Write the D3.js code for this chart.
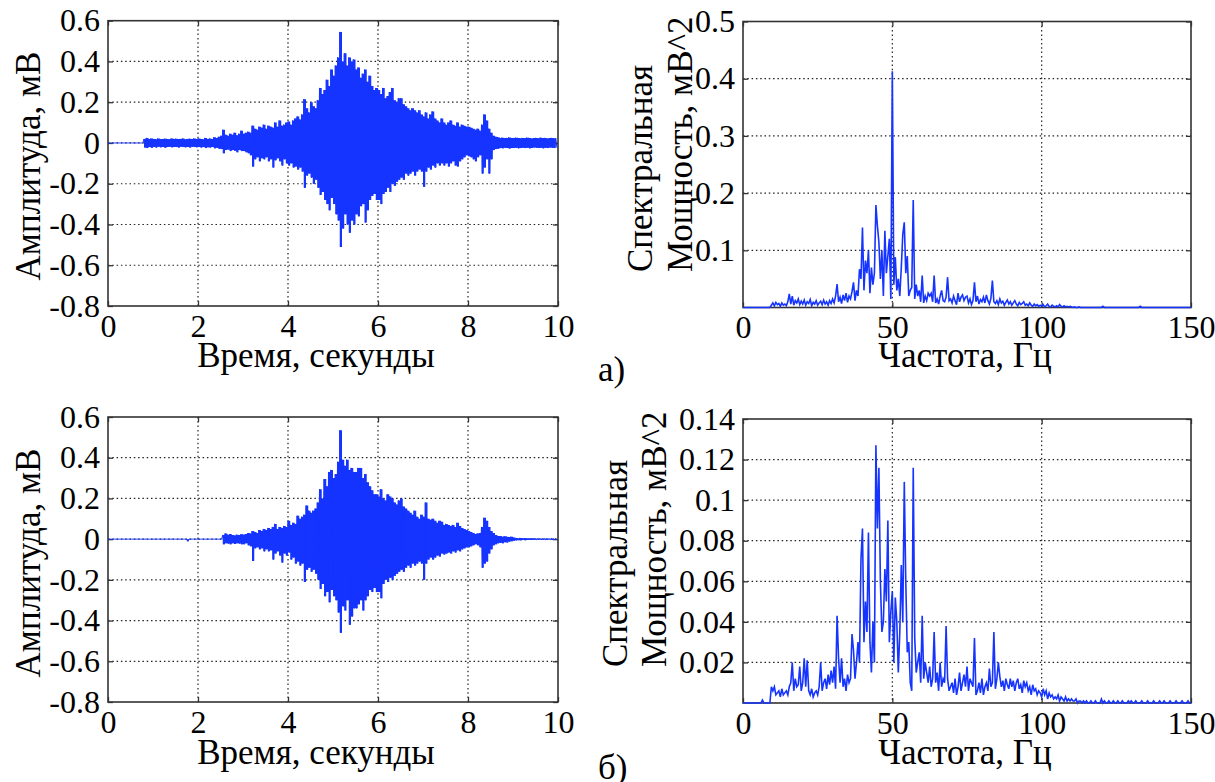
<!DOCTYPE html>
<html><head><meta charset="utf-8">
<script src="https://cdn.jsdelivr.net/npm/d3@7"></script>
<style>
body{margin:0;background:#fff}
</style></head>
<body><svg id="c" width="1215" height="782"></svg>
<script>
// ---------------- DATA ----------------
// EMG envelopes (mV), sampled every 0.05 s from 0 to 9.95 s
const sampleStep = 0.05;
const ampA_hi = [
0,0,0,0,0,0,0,0,0,0,
0,0,0,0,0,0,0.02,0.025,0.02,0.022,
0.02,0.018,0.022,0.02,0.019,0.021,0.02,0.018,0.022,0.02,
0.021,0.019,0.02,0.022,0.018,0.02,0.021,0.019,0.022,0.02,
0.022,0.02,0.018,0.025,0.02,0.022,0.019,0.028,0.024,0.03,
0.035,0.065,0.04,0.035,0.045,0.04,0.05,0.038,0.045,0.06,
0.045,0.05,0.055,0.05,0.085,0.07,0.065,0.08,0.075,0.09,
0.07,0.085,0.08,0.075,0.1,0.08,0.11,0.085,0.09,0.1,
0.105,0.09,0.11,0.12,0.13,0.115,0.14,0.215,0.17,0.15,
0.2,0.18,0.17,0.21,0.27,0.24,0.26,0.31,0.28,0.36,
0.33,0.38,0.42,0.545,0.4,0.44,0.38,0.42,0.4,0.41,
0.36,0.37,0.32,0.34,0.36,0.3,0.33,0.28,0.26,0.27,
0.26,0.24,0.27,0.22,0.23,0.25,0.27,0.21,0.2,0.22,
0.22,0.19,0.18,0.17,0.16,0.17,0.16,0.15,0.16,0.14,
0.13,0.15,0.12,0.14,0.155,0.12,0.11,0.1,0.12,0.1,
0.09,0.1,0.11,0.09,0.085,0.1,0.08,0.09,0.085,0.08,
0.08,0.075,0.07,0.065,0.07,0.06,0.09,0.14,0.11,0.07,
0.05,0.035,0.03,0.028,0.025,0.026,0.024,0.025,0.027,0.025,
0.024,0.026,0.025,0.023,0.025,0.024,0.026,0.025,0.022,0.024,
0.025,0.023,0.026,0.024,0.025,0.022,0.024,0.025,0.023,0.024];
const ampA_lo = [
0,0,0,0,0,0,0,0,0,0,
0,0,0,0,0,0,-0.022,-0.025,-0.02,-0.024,
-0.02,-0.022,-0.019,-0.021,-0.02,-0.023,-0.02,-0.019,-0.021,-0.02,
-0.02,-0.022,-0.019,-0.02,-0.021,-0.02,-0.022,-0.019,-0.02,-0.021,
-0.02,-0.022,-0.02,-0.025,-0.021,-0.022,-0.02,-0.026,-0.024,-0.028,
-0.03,-0.05,-0.035,-0.032,-0.04,-0.035,-0.038,-0.045,-0.035,-0.04,
-0.04,-0.045,-0.05,-0.06,-0.116,-0.08,-0.07,-0.09,-0.075,-0.08,
-0.07,-0.09,-0.08,-0.12,-0.085,-0.075,-0.09,-0.11,-0.08,-0.1,
-0.11,-0.1,-0.12,-0.115,-0.13,-0.12,-0.14,-0.22,-0.16,-0.15,
-0.17,-0.2,-0.18,-0.22,-0.255,-0.24,-0.28,-0.3,-0.33,-0.27,
-0.3,-0.35,-0.38,-0.51,-0.42,-0.35,-0.4,-0.44,-0.38,-0.4,
-0.35,-0.36,-0.31,-0.3,-0.39,-0.33,-0.28,-0.26,-0.25,-0.28,
-0.28,-0.3,-0.25,-0.24,-0.22,-0.24,-0.2,-0.21,-0.19,-0.18,
-0.17,-0.18,-0.15,-0.16,-0.15,-0.14,-0.16,-0.14,-0.13,-0.14,
-0.215,-0.14,-0.12,-0.13,-0.11,-0.12,-0.1,-0.11,-0.1,-0.11,
-0.1,-0.115,-0.1,-0.09,-0.11,-0.115,-0.09,-0.08,-0.07,-0.06,
-0.065,-0.07,-0.08,-0.09,-0.07,-0.06,-0.15,-0.12,-0.08,-0.15,
-0.08,-0.035,-0.03,-0.028,-0.025,-0.026,-0.024,-0.025,-0.027,-0.025,
-0.025,-0.024,-0.026,-0.025,-0.023,-0.025,-0.024,-0.026,-0.025,-0.022,
-0.024,-0.025,-0.023,-0.026,-0.024,-0.025,-0.022,-0.024,-0.025,-0.023];
const ampB_hi = [
0,0,0,0,0,0,0,0,0,0,
0,0,0,0,0,0,0,0,0,0,
0,0,0,0,0,0,0,0,0,0,
0,0,0,0,0,0,0,0,0,0,
0,0,0,0,0,0,0,0,0,0,
0,0.02,0.028,0.022,0.025,0.02,0.018,0.022,0.02,0.024,
0.022,0.025,0.03,0.028,0.04,0.035,0.03,0.045,0.04,0.05,
0.045,0.055,0.05,0.06,0.075,0.05,0.06,0.055,0.065,0.06,
0.09,0.07,0.08,0.075,0.115,0.1,0.11,0.12,0.165,0.14,
0.13,0.14,0.15,0.18,0.245,0.2,0.295,0.26,0.33,0.34,
0.3,0.32,0.38,0.535,0.39,0.36,0.39,0.34,0.35,0.33,
0.33,0.35,0.35,0.3,0.32,0.28,0.26,0.24,0.22,0.22,
0.21,0.245,0.2,0.19,0.22,0.21,0.2,0.18,0.17,0.19,
0.2,0.16,0.15,0.14,0.13,0.12,0.14,0.11,0.1,0.12,
0.11,0.18,0.1,0.095,0.1,0.09,0.08,0.09,0.085,0.07,
0.075,0.07,0.065,0.07,0.06,0.08,0.065,0.055,0.05,0.045,
0.04,0.035,0.03,0.025,0.028,0.03,0.06,0.105,0.09,0.06,
0.04,0.03,0.02,0.016,0.015,0.012,0.014,0.012,0.01,0.012,
0.008,0.006,0.005,0.006,0.004,0.005,0.004,0.003,0.004,0.003,
0.003,0.002,0.003,0.002,0.003,0.002,0.002,0.003,0.002,0.002];
const ampB_lo = [
0,0,0,0,0,0,0,0,0,0,
0,0,0,0,0,0,0,0,0,0,
0,0,0,0,0,0,0,0,0,0,
0,0,0,0,0,-0.01,0,0,0,0,
0,0,0,0,0,0,0,0,0,0,
0,-0.025,-0.02,-0.022,-0.025,-0.02,-0.024,-0.02,-0.022,-0.025,
-0.025,-0.02,-0.03,-0.035,-0.107,-0.045,-0.04,-0.05,-0.045,-0.06,
-0.05,-0.06,-0.055,-0.1,-0.07,-0.06,-0.08,-0.115,-0.07,-0.08,
-0.065,-0.1,-0.09,-0.12,-0.11,-0.13,-0.12,-0.21,-0.15,-0.14,
-0.16,-0.15,-0.17,-0.2,-0.245,-0.22,-0.28,-0.26,-0.31,-0.25,
-0.28,-0.3,-0.36,-0.46,-0.33,-0.35,-0.3,-0.42,-0.38,-0.34,
-0.34,-0.32,-0.3,-0.35,-0.3,-0.28,-0.25,-0.26,-0.24,-0.26,
-0.26,-0.29,-0.22,-0.2,-0.21,-0.19,-0.2,-0.18,-0.17,-0.16,
-0.15,-0.16,-0.14,-0.13,-0.14,-0.12,-0.13,-0.12,-0.11,-0.12,
-0.2,-0.12,-0.1,-0.09,-0.1,-0.09,-0.08,-0.085,-0.07,-0.075,
-0.07,-0.065,-0.07,-0.06,-0.065,-0.055,-0.06,-0.05,-0.045,-0.04,
-0.04,-0.035,-0.03,-0.025,-0.03,-0.04,-0.14,-0.12,-0.11,-0.07,
-0.05,-0.03,-0.025,-0.02,-0.018,-0.02,-0.015,-0.016,-0.012,-0.01,
-0.008,-0.006,-0.005,-0.006,-0.004,-0.005,-0.004,-0.003,-0.004,-0.003,
-0.003,-0.002,-0.003,-0.002,-0.003,-0.002,-0.002,-0.003,-0.002,-0.002];

// Power spectra (mV^2), sampled every 0.5 Hz from 0 to 150 Hz
const freqStep = 0.5;
const specA = [
0,0,0,0,0,0,0,0,0,0,
0,0,0,0,0,0,0,0,0,0.004,
0.008,0.003,0.009,0.005,0.007,0.002,0.008,0.004,0.006,0.003,
0.01,0.024,0.006,0.02,0.004,0.012,0.008,0.015,0.005,0.011,
0.006,0.013,0.004,0.01,0.007,0.014,0.003,0.009,0.006,0.012,
0.004,0.008,0.011,0.005,0.013,0.006,0.01,0.004,0.012,0.007,
0.015,0.008,0.02,0.041,0.01,0.018,0.007,0.022,0.012,0.025,
0.009,0.02,0.015,0.028,0.044,0.012,0.03,0.02,0.067,0.05,
0.14,0.03,0.082,0.06,0.1,0.025,0.07,0.04,0.06,0.179,
0.143,0.114,0.05,0.1,0.02,0.134,0.06,0.09,0.12,0.015,
0.413,0.04,0.088,0.03,0.05,0.02,0.07,0.128,0.149,0.06,
0.09,0.02,0.03,0.035,0.188,0.015,0.04,0.02,0.03,0.01,
0.056,0.008,0.02,0.012,0.025,0.02,0.025,0.01,0.056,0.008,
0.015,0.006,0.02,0.03,0.012,0.01,0.018,0.053,0.012,0.015,
0.008,0.02,0.012,0.005,0.025,0.01,0.018,0.022,0.012,0.018,
0.02,0.008,0.015,0.005,0.012,0.044,0.01,0.02,0.006,0.014,
0.01,0.018,0.008,0.022,0.012,0.006,0.016,0.047,0.01,0.007,
0.012,0.005,0.015,0.008,0.011,0.004,0.009,0.013,0.006,0.01,
0.004,0.008,0.012,0.006,0.003,0.009,0.005,0.007,0.01,0.004,
0.006,0.003,0.008,0.004,0.002,0.006,0.003,0.005,0.002,0.004,
0.002,0.005,0.001,0.003,0.006,0.002,0.001,0.004,0.002,0.001,
0.003,0.001,0.005,0.002,0.001,0.003,0.001,0.002,0.001,0.002,
0.001,0,0.001,0,0,0.001,0,0,0,0,
0,0,0,0,0,0,0,0,0,0,
0,0.002,0,0,0,0,0,0,0,0,
0,0,0,0,0,0,0,0,0,0,
0,0,0,0,0,0,0.002,0,0,0,
0,0,0,0,0,0,0,0,0,0,
0,0,0,0,0,0,0,0,0,0,
0,0,0,0,0,0,0,0,0,0,
0];
const specB = [
0,0,0,0,0,0,0,0,0,0,
0,0,0,0.0015,0,0,0,0,0,0.008,
0.006,0.008,0.004,0.005,0.006,0.003,0.007,0.004,0.005,0.006,
0.004,0.008,0.01,0.02,0.006,0.012,0.008,0.009,0.018,0.006,
0.01,0.022,0.008,0.021,0.006,0.004,0.007,0.003,0.005,0.006,
0.004,0.008,0.02,0.006,0.01,0.012,0.007,0.014,0.009,0.016,
0.01,0.018,0.007,0.043,0.022,0.01,0.022,0.008,0.012,0.006,
0.014,0.01,0.012,0.034,0.026,0.012,0.02,0.03,0.02,0.071,
0.086,0.03,0.05,0.035,0.084,0.03,0.015,0.04,0.02,0.127,
0.086,0.116,0.06,0.035,0.04,0.066,0.05,0.09,0.03,0.045,
0.055,0.02,0.052,0.04,0.015,0.035,0.068,0.04,0.109,0.06,
0.025,0.03,0.01,0.006,0.116,0.032,0.015,0.02,0.025,0.01,
0.043,0.012,0.02,0.015,0.01,0.018,0.008,0.012,0.035,0.01,
0.015,0.006,0.02,0.008,0.012,0.01,0.038,0.012,0.006,0.008,
0.01,0.005,0.012,0.004,0.008,0.015,0.006,0.01,0.014,0.008,
0.018,0.006,0.012,0.01,0.008,0.032,0.004,0.006,0.01,0.005,
0.012,0.004,0.008,0.01,0.006,0.017,0.008,0.01,0.035,0.007,
0.012,0.02,0.013,0.008,0.011,0.006,0.012,0.009,0.007,0.012,
0.008,0.011,0.006,0.01,0.012,0.007,0.009,0.005,0.011,0.008,
0.01,0.006,0.008,0.004,0.009,0.006,0.007,0.004,0.006,0.005,
0.003,0.007,0.004,0.006,0.002,0.005,0.003,0.004,0.002,0.003,
0.002,0.004,0.001,0.003,0.002,0.001,0.003,0.001,0.002,0.001,
0.002,0.001,0.001,0.002,0,0.001,0.001,0,0.001,0,
0.001,0,0,0.001,0,0,0.001,0,0,0,
0.002,0,0.001,0,0,0.001,0,0,0.001,0,
0,0.001,0,0,0.001,0,0,0,0.001,0,
0.001,0,0,0.001,0,0,0,0.001,0,0,
0,0.001,0,0,0,0.001,0,0,0,0.001,
0,0,0.001,0,0,0,0.001,0,0,0,
0.001,0,0,0,0.001,0,0,0,0.001,0,
0];

// Tick values and labels
const timeTicks = [0,2,4,6,8,10];
const ampTicks = [-0.8,-0.6,-0.4,-0.2,0,0.2,0.4,0.6];
const freqTicks = [0,50,100,150];
const powATicks = [0.1,0.2,0.3,0.4,0.5];
const powBTicks = [0.02,0.04,0.06,0.08,0.1,0.12,0.14];
const labels = {
  time: "Время, секунды",
  amp: "Амплитуда, мВ",
  freq: "Частота, Гц",
  pow1: "Спектральная",
  pow2: "Мощность, мВ^2",
  a: "а)",
  b: "б)"
};

// ---------------- DRAW ----------------
const FONT = '"Liberation Serif"';
const svg = d3.select("#c");
const BLUE = "#1634ff";
const fmt = d => String(+(+d).toFixed(2));

function panel(o) {
  const x = d3.scaleLinear().domain(o.xd).range([o.x0, o.x1]);
  const y = d3.scaleLinear().domain(o.yd).range([o.y1, o.y0]);
  const g = svg.append("g");
  // grid
  o.xt.filter(v => v > o.xd[0] && v < o.xd[1]).forEach(v => {
    g.append("line").attr("x1", x(v)).attr("x2", x(v)).attr("y1", o.y0).attr("y2", o.y1)
      .attr("stroke", "#222").attr("stroke-width", 1.2).attr("stroke-dasharray", "1.5,2.8");
  });
  o.yt.filter(v => v > o.yd[0] && v < o.yd[1]).forEach(v => {
    g.append("line").attr("y1", y(v)).attr("y2", y(v)).attr("x1", o.x0).attr("x2", o.x1)
      .attr("stroke", "#222").attr("stroke-width", 1.2).attr("stroke-dasharray", "1.5,2.8");
  });
  // axes
  const ax = [
    d3.axisBottom(x).tickValues(o.xt).tickSizeInner(-5).tickSizeOuter(0).tickPadding(8).tickFormat(fmt),
    d3.axisTop(x).tickValues(o.xt).tickSizeInner(-5).tickSizeOuter(0).tickFormat(""),
    d3.axisLeft(y).tickValues(o.yt).tickSizeInner(-5).tickSizeOuter(0).tickPadding(8).tickFormat(fmt),
    d3.axisRight(y).tickValues(o.yt).tickSizeInner(-5).tickSizeOuter(0).tickFormat("")
  ];
  const pos = [[0, o.y1], [0, o.y0], [o.x0, 0], [o.x1, 0]];
  ax.forEach((a, i) => {
    const ag = g.append("g").attr("transform", `translate(${pos[i][0]},${pos[i][1]})`).call(a)
      .attr("font-family", null);
    ag.select(".domain").remove();
    ag.selectAll("line").attr("stroke", "#333").attr("stroke-width", 1.3);
    ag.selectAll("text").attr("font-size", 32).attr("fill", "#000").style("font-family", FONT);
  });
  // box
  g.append("rect").attr("x", o.x0).attr("y", o.y0).attr("width", o.x1 - o.x0).attr("height", o.y1 - o.y0)
    .attr("fill", "none").attr("stroke", "#333").attr("stroke-width", 1.6);
  // data
  if (o.lo) {
    const rows = o.hi.map((v, i) => ({t: i * sampleStep, hi: v, lo: o.lo[i]}));
    g.append("path").datum(rows)
      .attr("d", d3.area().x(d => x(d.t)).y0(d => y(d.lo)).y1(d => y(d.hi)).curve(d3.curveStepAfter))
      .attr("fill", BLUE).attr("stroke", "none");
    const zz = [];
    rows.forEach(r => { zz.push([r.t, r.hi]); zz.push([r.t + sampleStep / 2, r.lo]); });
    g.append("path").datum(zz)
      .attr("d", d3.line().x(d => x(d[0])).y(d => y(d[1])))
      .attr("fill", "none").attr("stroke", BLUE).attr("stroke-width", 1);
  } else {
    g.append("path").datum(o.spec.map((v, i) => [i * freqStep, v]))
      .attr("d", d3.line().x(d => x(d[0])).y(d => y(d[1])))
      .attr("fill", "none").attr("stroke", BLUE).attr("stroke-width", 1.6);
  }
  return {x, y};
}

panel({x0:108, x1:558, y0:20.7, y1:306, xd:[0,10], yd:[-0.8,0.6], xt:timeTicks, yt:ampTicks, hi:ampA_hi, lo:ampA_lo});
panel({x0:108, x1:558, y0:417, y1:702, xd:[0,10], yd:[-0.8,0.6], xt:timeTicks, yt:ampTicks, hi:ampB_hi, lo:ampB_lo});
panel({x0:743, x1:1191, y0:21.5, y1:307.5, xd:[0,150], yd:[0,0.5], xt:freqTicks, yt:powATicks, spec:specA});
panel({x0:743, x1:1191, y0:419, y1:703, xd:[0,150], yd:[0,0.14], xt:freqTicks, yt:powBTicks, spec:specB});

function txt(s, x, y, opt = {}) {
  return svg.append("text").attr("x", 0).attr("y", 0).attr("font-size", opt.size || 35)
    .style("font-family", FONT).attr("fill", "#000")
    .attr("text-anchor", opt.anchor || "middle")
    .attr("transform", `translate(${x},${y})` + (opt.rot ? " rotate(-90)" : ""))
    .text(s);
}
// left panels
txt(labels.time, 316, 367);
txt(labels.amp, 40, 166, {rot:true});
txt(labels.time, 316, 764);
txt(labels.amp, 40, 563, {rot:true});
// right panels
txt(labels.freq, 965, 367);
txt(labels.pow1, 652, 272, {rot:true, anchor:"start"});
txt(labels.pow2, 692, 272, {rot:true, anchor:"start"});
txt(labels.freq, 965, 764);
txt(labels.pow1, 627, 667, {rot:true, anchor:"start"});
txt(labels.pow2, 666, 667, {rot:true, anchor:"start"});
// panel letters
txt(labels.a, 598, 381, {anchor:"start"});
txt(labels.b, 598, 779, {anchor:"start"});
</script></body></html>
